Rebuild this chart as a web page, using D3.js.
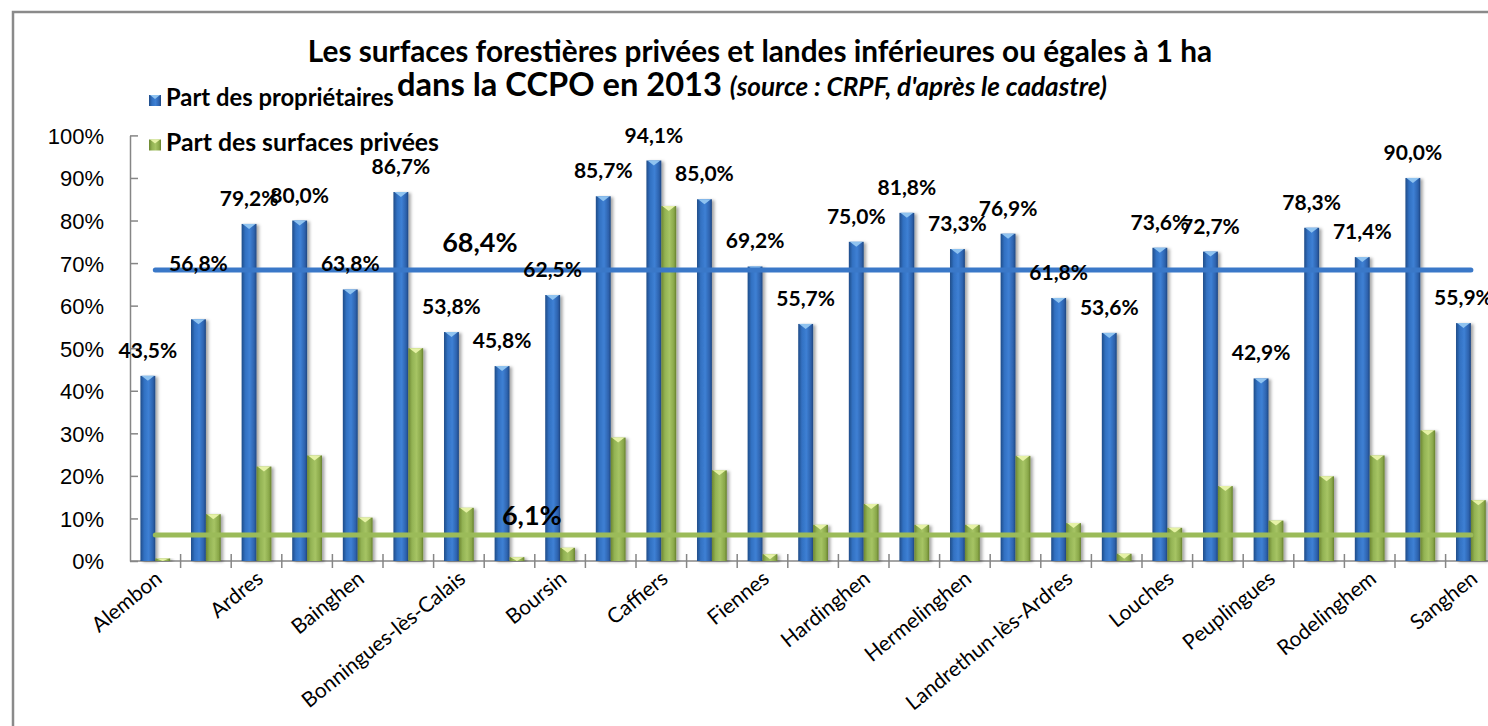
<!DOCTYPE html>
<meta charset="utf-8">
<style>
html, body {
  margin: 0;
  background: #fff;
}

.chart {
  display: block;
  font-family: Lato, "Open Sans", sans-serif;
}

.chart .axis path,
.chart .axis line {
  fill: none;
  stroke: #868686;
  stroke-width: 1.5;
}

.chart .axis text {
  fill: #000;
}
</style>
<body>
<svg class="chart js-chart" width="1488" height="726"></svg>

<script src="https://cdn.jsdelivr.net/npm/d3@7/dist/d3.min.js"></script>
<script>
"use strict";

/* global d3 */
var communes = [
  "Alembon", "Andres", "Ardres", "Autingues", "Bainghen", "Balinghem",
  "Bonningues-lès-Calais", "Bouquehault", "Boursin", "Brêmes", "Caffiers",
  "Campagne-lès-Guînes", "Fiennes", "Guînes", "Hardinghen", "Herbinghen",
  "Hermelinghen", "Hocquinghen", "Landrethun-lès-Ardres", "Licques", "Louches",
  "Nielles-lès-Ardres", "Peuplingues", "Pihen-lès-Guînes", "Rodelinghem",
  "Saint-Tricat", "Sanghen"
];

// part des propriétaires (%)
var partProprietaires = [
  43.5, 56.8, 79.2, 80.0, 63.8, 86.7, 53.8, 45.8, 62.5, 85.7, 94.1, 85.0, 69.2,
  55.7, 75.0, 81.8, 73.3, 76.9, 61.8, 53.6, 73.6, 72.7, 42.9, 78.3, 71.4, 90.0, 55.9
];

// part des surfaces privées (%)
var partSurfaces = [
  0.6, 11.0, 22.2, 24.8, 10.2, 50.0, 12.5, 0.9, 3.1, 29.0, 83.4, 21.3, 1.6,
  8.5, 13.4, 8.5, 8.5, 24.7, 8.9, 1.7, 7.8, 17.6, 9.5, 19.9, 24.8, 30.7, 14.3
];

var moyenneProprietaires = 68.4;
var moyenneSurfaces = 6.1;

var yTicks = [0, 10, 20, 30, 40, 50, 60, 70, 80, 90, 100];

// Excel n'affiche qu'une étiquette sur deux
var xTickLabels = [
  "Alembon", "Ardres", "Bainghen", "Bonningues-lès-Calais", "Boursin", "Caffiers",
  "Fiennes", "Hardinghen", "Hermelinghen", "Landrethun-lès-Ardres", "Louches",
  "Peuplingues", "Rodelinghem", "Sanghen"
];

var seriesNames = ["Part des propriétaires", "Part des surfaces privées"];

var fr = d3.formatLocale({ decimal: ",", thousands: " ", grouping: [3], currency: ["", " €"] });
var pct = fr.format(".1f");

var svg = d3.select(".js-chart");

var plot = { left: 130, top: 135.4, bottom: 561, step: 50.6 };
plot.right = plot.left + plot.step * communes.length;

var x = d3.scaleBand()
  .domain(communes)
  .range([plot.left, plot.right])
  .paddingInner(0)
  .paddingOuter(0);

var xs = d3.scaleBand()
  .domain(["prop", "surf"])
  .range([0, x.bandwidth()])
  .paddingInner(0)
  .paddingOuter(0.7);

var y = d3.scaleLinear()
  .domain([0, 100])
  .range([plot.bottom, plot.top]);

// frame
svg.append("rect")
  .attr("x", 13).attr("y", 12)
  .attr("width", 1600).attr("height", 800)
  .attr("fill", "#fff")
  .attr("stroke", "#8a8a8a")
  .attr("stroke-width", 2.5);

var defs = svg.append("defs");

function gradient(id, stops) {
  var g = defs.append("linearGradient").attr("id", id)
    .attr("x1", 0).attr("x2", 1).attr("y1", 0).attr("y2", 0);
  stops.forEach(function (s) {
    g.append("stop").attr("offset", s[0]).attr("stop-color", s[1]);
  });
}

gradient("gBlue", [[0, "#1f4c88"], [0.25, "#3271c2"], [0.55, "#3e80d4"], [0.85, "#2d62ad"], [1, "#1e4681"]]);
gradient("gGreen", [[0, "#6c8631"], [0.25, "#93b354"], [0.55, "#a6c464"], [0.85, "#8aa84a"], [1, "#66802d"]]);

defs.append("filter").attr("id", "shadow")
  .attr("x", "-30%").attr("y", "-10%").attr("width", "180%").attr("height", "130%")
  .append("feDropShadow")
    .attr("dx", 2.5).attr("dy", 1)
    .attr("stdDeviation", 1.6)
    .attr("flood-color", "#000")
    .attr("flood-opacity", 0.35);

// y axis
var yAxis = svg.append("g")
  .attr("class", "axis axis--y")
  .attr("transform", "translate(" + plot.left + ",0)")
  .call(d3.axisLeft(y)
    .tickValues(yTicks)
    .tickFormat(function (d) { return d + "%"; })
    .tickSizeInner(8)
    .tickSizeOuter(0)
    .tickPadding(18));

yAxis.selectAll(".tick line").attr("x2", 8);
yAxis.selectAll(".tick text")
  .style("font-size", "22px")
  .attr("dy", "0.36em");

// x axis: baseline + ticks at category boundaries
var xAxis = svg.append("g").attr("class", "axis axis--x");

xAxis.append("line")
  .attr("x1", plot.left).attr("x2", plot.right)
  .attr("y1", plot.bottom).attr("y2", plot.bottom);

xAxis.selectAll(".bound")
  .data(communes)
  .enter().append("line")
    .attr("class", "bound")
    .attr("x1", function (d) { return x(d) + x.bandwidth(); })
    .attr("x2", function (d) { return x(d) + x.bandwidth(); })
    .attr("y1", plot.bottom - 7)
    .attr("y2", plot.bottom + 7);

xAxis.selectAll(".lbl")
  .data(xTickLabels)
  .enter().append("text")
    .attr("class", "lbl")
    .attr("text-anchor", "end")
    .attr("transform", function (d) {
      return "translate(" + (x(d) + x.bandwidth() / 2 + 8) + "," + (plot.bottom + 20) + ") rotate(-39)";
    })
    .style("font-size", "21px")
    .text(function (d) { return d; });

// bars
var rows = communes.map(function (c, i) {
  return { commune: c, prop: partProprietaires[i], surf: partSurfaces[i] };
});

var series = [
  { key: "prop", fill: "url(#gBlue)", cap: "#8fc3f0" },
  { key: "surf", fill: "url(#gGreen)", cap: "#e6f2a6" }
];

series.forEach(function (s) {
  var g = svg.append("g").attr("class", "series series--" + s.key);

  var bars = g.selectAll(".bar")
    .data(rows)
    .enter().append("g")
      .attr("class", "bar")
      .attr("transform", function (d) { return "translate(" + (x(d.commune) + xs(s.key)) + ",0)"; });

  bars.append("rect")
    .attr("x", 0)
    .attr("y", function (d) { return y(d[s.key]); })
    .attr("width", xs.bandwidth())
    .attr("height", function (d) { return y(0) - y(d[s.key]); })
    .attr("fill", s.fill)
    .attr("filter", "url(#shadow)");

  bars.append("path")
    .attr("d", function (d) {
      var t = y(d[s.key]);
      var w = xs.bandwidth();
      var h = Math.min(5, y(0) - t);
      return "M1," + t + "L" + (w - 1) + "," + t + "L" + (w / 2) + "," + (t + h) + "Z";
    })
    .attr("fill", s.cap);
});

// average lines
var avgLines = [
  { value: moyenneProprietaires, color: "#3a78c8", labelAt: 6, labelShift: 0.17, lift: 18 },
  { value: moyenneSurfaces, color: "#9bbb59", labelAt: 7, labelShift: 0.35, lift: 10 }
];

var line = d3.line()
  .x(function (d) { return x(d) + x.bandwidth() / 2; });

avgLines.forEach(function (a) {
  svg.append("path")
    .attr("d", line.y(function () { return y(a.value); })(communes))
    .attr("fill", "none")
    .attr("stroke", a.color)
    .attr("stroke-width", 5)
    .attr("stroke-linecap", "round");
});

avgLines.forEach(function (a) {
  svg.append("text")
    .attr("x", x(communes[a.labelAt]) + x.bandwidth() * a.labelShift)
    .attr("y", y(a.value) - a.lift)
    .style("font-size", "27px")
    .style("font-weight", "bold")
    .text(pct(a.value) + "%");
});

// value labels on blue bars
var labelLift = { "Andres": 30 };

svg.append("g").attr("class", "values")
  .selectAll("text")
  .data(rows)
  .enter().append("text")
    .attr("text-anchor", "middle")
    .attr("x", function (d) { return x(d.commune) + xs("prop") + xs.bandwidth() / 2; })
    .attr("y", function (d) { return y(d.prop) - 18 - (labelLift[d.commune] || 0); })
    .style("font-size", "21px")
    .style("font-weight", "bold")
    .text(function (d) { return pct(d.prop) + "%"; });

// fit helper: set font-size so the text reaches a given width
function fit(sel, width) {
  var w = sel.node().getComputedTextLength();
  var fs = parseFloat(sel.style("font-size"));
  sel.style("font-size", (fs * width / w) + "px");
}

// title
var t1 = svg.append("text")
  .attr("x", 760).attr("y", 62)
  .attr("text-anchor", "middle")
  .style("font-size", "24px")
  .style("font-weight", "bold")
  .text("Les surfaces forestières privées et landes inférieures ou égales à 1 ha");
fit(t1, 905);

var t2 = svg.append("text")
  .attr("x", 397).attr("y", 96)
  .style("font-size", "24px")
  .style("font-weight", "bold");
t2.append("tspan").text("dans la CCPO en 2013 ");
t2.append("tspan")
  .style("font-style", "italic")
  .style("font-size", "0.8em")
  .text("(source : CRPF, d'après le cadastre)");
fit(t2, 710);

// legend
var legend = svg.append("g").attr("class", "legend");
var legendColors = ["url(#gBlue)", "url(#gGreen)"];
var legendCaps = ["#8fc3f0", "#e6f2a6"];

seriesNames.forEach(function (name, i) {
  var row = legend.append("g").attr("transform", "translate(149," + (95 + i * 44.5) + ")");
  row.append("rect")
    .attr("width", 12).attr("height", 11)
    .attr("fill", legendColors[i]);
  row.append("path")
    .attr("d", "M1,0L11,0L6,4Z")
    .attr("fill", legendCaps[i]);
  var txt = row.append("text")
    .attr("x", 17).attr("y", 11)
    .style("font-size", "20px")
    .style("font-weight", "bold")
    .text(name);
  fit(txt, i === 0 ? 228 : 273);
});
</script>
</body>
